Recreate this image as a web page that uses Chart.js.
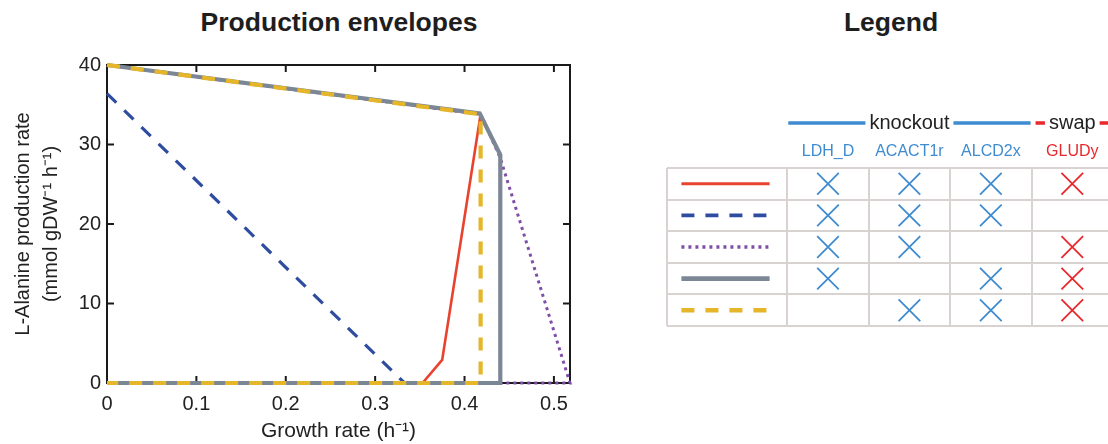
<!DOCTYPE html>
<html>
<head>
<meta charset="utf-8">
<script src="https://cdn.jsdelivr.net/npm/chart.js@4/dist/chart.umd.min.js"></script>
<style>
  html, body { margin: 0; padding: 0; background: #fff; }
  #page { position: relative; width: 1108px; height: 444px; overflow: hidden; font-family: "Liberation Sans", Arial, sans-serif; }
  .title { position: absolute; top: 7px; font-size: 26.5px; font-weight: bold; color: #1e1e1e; line-height: 30px; white-space: nowrap; transform: translateX(-50%); }
  #envCanvas { position: absolute; left: 0; top: 0; }
  #legCanvas { position: absolute; left: 640px; top: 0; }
</style>
</head>
<body>
<div id="page">
  <div class="title" style="left:339px">Production envelopes</div>
  <div class="title" style="left:891px">Legend</div>
  <canvas id="envCanvas" width="620" height="444"></canvas>
  <canvas id="legCanvas" width="500" height="444"></canvas>
</div>
<script>
// production envelopes, one outline per design (growth rate h-1, L-alanine mmol gDW-1 h-1)
const redGrowth = [0, 0.418, 0.375, 0.353, 0];
const redProd = [40, 33.8, 2.9, 0, 0];
const blueGrowth = [0, 0.333, 0];
const blueProd = [36.4, 0, 0];
const purpleGrowth = [0, 0.418, 0.44, 0.518, 0];
const purpleProd = [40, 33.8, 28.3, 0, 0];
const grayGrowth = [0, 0.417, 0.44, 0.44, 0];
const grayProd = [40, 33.9, 28.7, 0, 0];
const yellowGrowth = [0, 0.418, 0.418, 0];
const yellowProd = [40, 33.8, 0, 0];

const xTicks = [0, 0.1, 0.2, 0.3, 0.4, 0.5];
const yTicks = [0, 10, 20, 30, 40];

// legend table: which reactions each design touches
const reactions = ['LDH_D', 'ACACT1r', 'ALCD2x', 'GLUDy'];
const reactionTypes = ['knockout', 'knockout', 'knockout', 'swap'];
const designRed = [1, 1, 1, 1];
const designBlue = [1, 1, 1, 0];
const designPurple = [1, 1, 0, 1];
const designGray = [1, 0, 1, 1];
const designYellow = [0, 1, 1, 1];

const FONT = '"Liberation Sans", Arial, sans-serif';
const TEXT = '#222';
const KO_BLUE = '#3f8bd0';
const SWAP_RED = '#e8282c';

const styles = [
  { color: '#e8432e', width: 2.6, dash: [] },
  { color: '#2f4da0', width: 3.2, dash: [13, 11] },
  { color: '#7f4fa8', width: 3, dash: [3, 4] },
  { color: '#7c8796', width: 4.2, dash: [] },
  { color: '#e5b52a', width: 4.2, dash: [13, 11] }
];

const pts = (xs, ys) => xs.map((x, i) => ({ x, y: ys[i] }));
const envelopes = [
  pts(redGrowth, redProd),
  pts(blueGrowth, blueProd),
  pts(purpleGrowth, purpleProd),
  pts(grayGrowth, grayProd),
  pts(yellowGrowth, yellowProd)
];
const designs = [designRed, designBlue, designPurple, designGray, designYellow];

// matlab style box with inward ticks on all sides
const boxPlugin = {
  id: 'box',
  beforeDatasetsDraw(chart) {
    const { ctx, chartArea: a, scales } = chart;
    const tl = 7;
    ctx.save();
    ctx.strokeStyle = '#1a1a1a';
    ctx.lineWidth = 2;
    ctx.beginPath();
    scales.x.ticks.forEach((t) => {
      const px = scales.x.getPixelForValue(t.value);
      if (px <= a.left + 1 || px >= a.right - 1) return;
      ctx.moveTo(px, a.bottom); ctx.lineTo(px, a.bottom - tl);
      ctx.moveTo(px, a.top); ctx.lineTo(px, a.top + tl);
    });
    scales.y.ticks.forEach((t) => {
      const py = scales.y.getPixelForValue(t.value);
      if (py <= a.top + 1 || py >= a.bottom - 1) return;
      ctx.moveTo(a.left, py); ctx.lineTo(a.left + tl, py);
      ctx.moveTo(a.right, py); ctx.lineTo(a.right - tl, py);
    });
    ctx.stroke();
    ctx.strokeRect(a.left, a.top, a.right - a.left, a.bottom - a.top);
    ctx.restore();
  }
};

new Chart(document.getElementById('envCanvas'), {
  type: 'scatter',
  data: {
    datasets: envelopes.map((data, i) => ({
      data,
      showLine: true,
      borderColor: styles[i].color,
      borderWidth: styles[i].width,
      borderDash: styles[i].dash,
      pointRadius: 0,
      fill: false,
      clip: false,
      order: envelopes.length - i
    }))
  },
  options: {
    responsive: false,
    animation: false,
    layout: { padding: { left: 0, right: 50, top: 65, bottom: 0 } },
    plugins: { legend: { display: false }, tooltip: { enabled: false } },
    scales: {
      x: {
        type: 'linear', min: 0, max: 0.518,
        afterBuildTicks: (s) => { s.ticks = xTicks.map((v) => ({ value: v })); },
        afterFit: (s) => { s.height = 61; },
        grid: { display: false, drawTicks: false },
        border: { display: false },
        ticks: {
          padding: 9, color: TEXT, font: { family: FONT, size: 20 },
          callback: (v) => (v === 0 ? '0' : Number(v).toFixed(1))
        },
        title: { display: true, text: 'Growth rate (h\u207B\u00B9)', color: TEXT, font: { family: FONT, size: 21 }, padding: { top: 0, bottom: 0 } }
      },
      y: {
        type: 'linear', min: 0, max: 40,
        afterBuildTicks: (s) => { s.ticks = yTicks.map((v) => ({ value: v })); },
        afterFit: (s) => { s.width = 107; },
        grid: { display: false, drawTicks: false },
        border: { display: false },
        ticks: { padding: 6, color: TEXT, font: { family: FONT, size: 20 } },
        title: {
          display: true,
          text: ['L-Alanine production rate', '(mmol gDW\u207B\u00B9 h\u207B\u00B9)'],
          color: TEXT, font: { family: FONT, size: 20, lineHeight: 1.4 }, padding: { top: 9, bottom: 0 }
        }
      }
    }
  },
  plugins: [boxPlugin]
});

// legend table layout (in column-width units)
const colEdges = [0, 1.477, 2.477, 3.477, 4.477, 5.477];
const rowEdges = [0, 1, 2, 3, 4, 5];
const colCenter = (j) => (colEdges[j + 1] + colEdges[j + 2]) / 2;
const sampleFrom = 0.177;
const sampleTo = 1.26;

const marks = { knockout: [], swap: [] };
designs.forEach((d, r) => {
  d.forEach((on, j) => {
    if (on) marks[reactionTypes[j]].push({ x: colCenter(j), y: r + 0.5 });
  });
});

const headerPlugin = {
  id: 'header',
  afterDraw(chart) {
    const { ctx, scales } = chart;
    const x = scales.x;
    ctx.save();
    ctx.textAlign = 'center';
    ctx.textBaseline = 'middle';
    ctx.font = '16px ' + FONT;
    reactions.forEach((name, j) => {
      ctx.fillStyle = reactionTypes[j] === 'swap' ? SWAP_RED : KO_BLUE;
      ctx.fillText(name, x.getPixelForValue(colCenter(j)), 152);
    });
    // group headers spanning their columns
    const groups = [];
    reactionTypes.forEach((t, j) => {
      const g = groups[groups.length - 1];
      if (g && g.type === t) g.end = j; else groups.push({ type: t, start: j, end: j });
    });
    ctx.font = '20px ' + FONT;
    groups.forEach((g) => {
      const x0 = x.getPixelForValue(colEdges[g.start + 1]) + 1;
      const x1 = x.getPixelForValue(colEdges[g.end + 2]) - 1;
      const cx = (x0 + x1) / 2;
      const tw = ctx.measureText(g.type).width;
      const y = 123;
      ctx.strokeStyle = g.type === 'swap' ? SWAP_RED : KO_BLUE;
      ctx.lineWidth = 3.5;
      ctx.beginPath();
      ctx.moveTo(x0 + (g.type === 'swap' ? 3 : 0), y); ctx.lineTo(cx - tw / 2 - 4, y);
      ctx.moveTo(cx + tw / 2 + 4, y); ctx.lineTo(x1, y);
      ctx.stroke();
      ctx.fillStyle = TEXT;
      ctx.fillText(g.type, cx, y);
    });
    ctx.restore();
  }
};

new Chart(document.getElementById('legCanvas'), {
  type: 'scatter',
  data: {
    datasets: [
      ...styles.map((s, r) => ({
        data: [{ x: sampleFrom, y: r + 0.5 }, { x: sampleTo, y: r + 0.5 }],
        showLine: true,
        borderColor: s.color,
        borderWidth: s.width + 0.4,
        borderDash: s.dash,
        pointRadius: 0
      })),
      {
        data: marks.knockout,
        pointStyle: 'crossRot', pointRadius: 15.3, borderWidth: 1.8,
        borderColor: KO_BLUE, backgroundColor: KO_BLUE, showLine: false
      },
      {
        data: marks.swap,
        pointStyle: 'crossRot', pointRadius: 15.3, borderWidth: 1.8,
        borderColor: SWAP_RED, backgroundColor: SWAP_RED, showLine: false
      }
    ]
  },
  options: {
    responsive: false,
    animation: false,
    layout: { padding: { left: 27, right: 27, top: 168, bottom: 118 } },
    plugins: { legend: { display: false }, tooltip: { enabled: false } },
    scales: {
      x: {
        type: 'linear', min: 0, max: colEdges[colEdges.length - 1],
        afterBuildTicks: (s) => { s.ticks = colEdges.map((v) => ({ value: v })); },
        afterFit: (s) => { s.height = 0; },
        ticks: { display: false },
        grid: { color: '#d8d3d1', lineWidth: 2, drawTicks: false },
        border: { display: false }
      },
      y: {
        type: 'linear', min: 0, max: 5, reverse: true,
        afterBuildTicks: (s) => { s.ticks = rowEdges.map((v) => ({ value: v })); },
        afterFit: (s) => { s.width = 0; },
        ticks: { display: false },
        grid: { color: '#d8d3d1', lineWidth: 2, drawTicks: false },
        border: { display: false }
      }
    }
  },
  plugins: [headerPlugin]
});
</script>
</body>
</html>
